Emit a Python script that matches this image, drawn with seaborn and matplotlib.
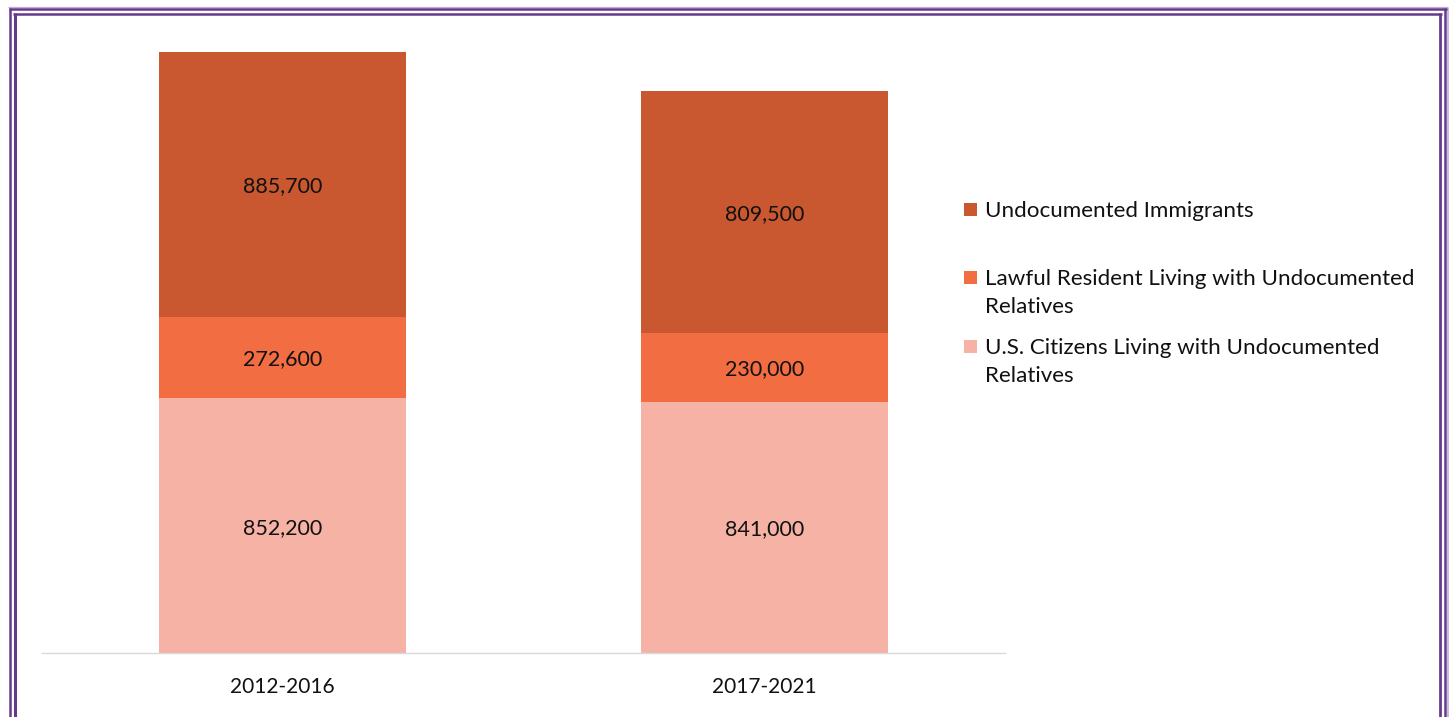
import matplotlib
matplotlib.use("Agg")
import matplotlib.pyplot as plt
from matplotlib.patches import Rectangle
from matplotlib.lines import Line2D
import numpy as np
import pandas as pd
import seaborn as sns

# Data
periods = ["2012-2016", "2017-2021"]
us_citizens = [852200, 841000]
lawful_residents = [272600, 230000]
undocumented = [885700, 809500]

series_names = [
    "Undocumented Immigrants",
    "Lawful Resident Living with Undocumented\nRelatives",
    "U.S. Citizens Living with Undocumented\nRelatives",
]
colors = {
    "undoc": "#C9572F",
    "lawful": "#F26D41",
    "citizen": "#F5B2A5",
}

sns.set_theme(style="white")
plt.rcParams["font.family"] = ["Lato", "DejaVu Sans"]

W, H = 1449, 717
fig = plt.figure(figsize=(W / 100, H / 100), dpi=100)
fig.patch.set_facecolor("white")

# Plot area placement (pixels -> figure fraction)
ax_left, ax_right, ax_bottom_px, ax_top_px = 42, 1005, 653, 30
ax = fig.add_axes([ax_left / W, 1 - ax_bottom_px / H,
                   (ax_right - ax_left) / W, (ax_bottom_px - ax_top_px) / H])

df = pd.DataFrame({
    "period": periods,
    "citizen": us_citizens,
    "lawful": lawful_residents,
    "undoc": undocumented,
})
df["lvl1"] = df["citizen"]
df["lvl2"] = df["citizen"] + df["lawful"]
df["lvl3"] = df["lvl2"] + df["undoc"]

bar_w = 0.513
# Stacked bars drawn from the full total downward
for col, key in [("lvl3", "undoc"), ("lvl2", "lawful"), ("lvl1", "citizen")]:
    sns.barplot(data=df, x="period", y=col, color=colors[key], saturation=1,
                width=bar_w, ax=ax, linewidth=0)

TXT = "#111111"
FS = 15.5

# Segment value labels
for i, row in df.iterrows():
    segs = [(0, row["citizen"]), (row["lvl1"], row["lawful"]), (row["lvl2"], row["undoc"])]
    for base, val in segs:
        ax.text(i, base + val / 2, f"{val:,}", ha="center", va="center_baseline",
                fontsize=FS, color=TXT)

scale = 601 / 2010500
ax.set_ylim(0, (ax_bottom_px - ax_top_px) / scale)
ax.set_xlim(-0.5, 1.5)
ax.set_xlabel("")
ax.set_ylabel("")
ax.set_yticks([])
ax.tick_params(axis="x", length=0, pad=17, labelsize=15, labelcolor=TXT)
for s in ["top", "right", "left"]:
    ax.spines[s].set_visible(False)
ax.spines["bottom"].set_color("#D9D9D9")
ax.spines["bottom"].set_linewidth(1)
ax.set_facecolor("white")

# Legend drawn on the figure
legend_items = [
    (series_names[0], colors["undoc"], 209),
    (series_names[1], colors["lawful"], 277),
    (series_names[2], colors["citizen"], 346),
]
for label, c, ypx in legend_items:
    sq = 13
    fig.patches.append(Rectangle((964 / W, 1 - (ypx + sq / 2) / H), sq / W, sq / H,
                                 transform=fig.transFigure, facecolor=c,
                                 edgecolor="none", figure=fig))
    fig.text(985 / W, 1 - (ypx - 8) / H, label, ha="left", va="top",
             fontsize=16.1, color=TXT, linespacing=1.48)

# Double purple frame
purple = "#663A8A"
light_purple = "#C3ABD6"
def vline(x, color, lw, top=8):
    fig.add_artist(Line2D([x / W, x / W], [0, 1 - top / H], transform=fig.transFigure,
                          color=color, linewidth=lw, solid_capstyle="butt"))
def hline(y, x0, x1, color, lw):
    fig.add_artist(Line2D([x0 / W, x1 / W], [1 - y / H, 1 - y / H], transform=fig.transFigure,
                          color=color, linewidth=lw, solid_capstyle="butt"))

hline(7.2, 8, 1448, light_purple, 0.9)
vline(1447.8, light_purple, 1.2)
hline(9, 9, 1447, purple, 1.8)
vline(10, purple, 1.8)
vline(1445, purple, 1.8)
hline(14, 13, 1442, purple, 1.8)
vline(14.5, purple, 2.2, top=13)
vline(1439.7, purple, 2.0, top=13)

fig.savefig("out.png", dpi=100, facecolor="white")
